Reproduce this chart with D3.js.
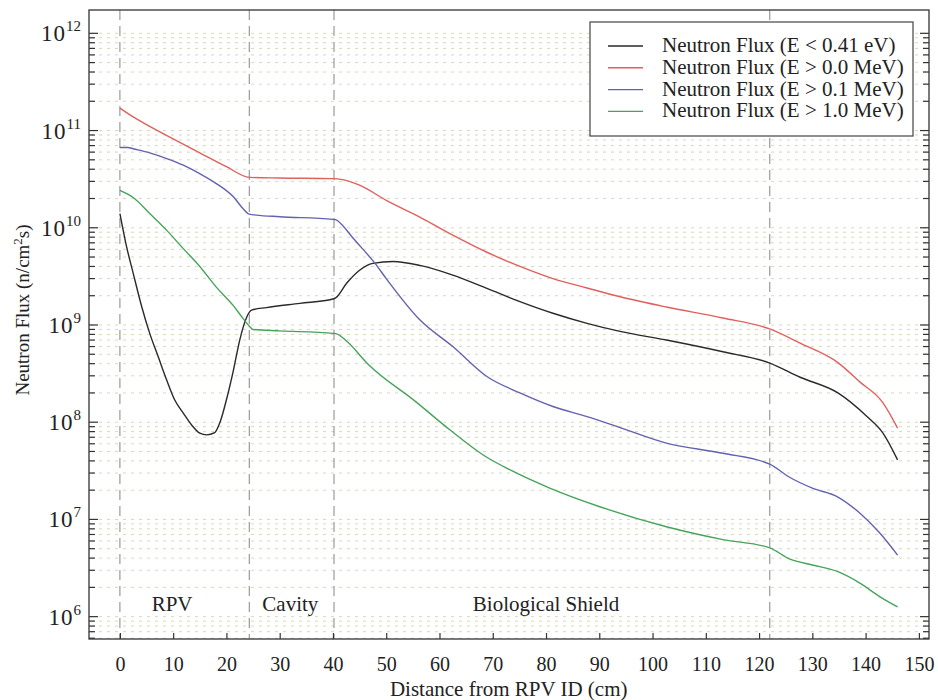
<!DOCTYPE html>
<html>
<head>
<meta charset="utf-8">
<script src="https://cdn.jsdelivr.net/npm/d3@7"></script>
<style>
  body { margin: 0; background: #fff; }
  svg text { font-family: "Liberation Serif", "Times New Roman", Times, serif !important; fill: #222; }
</style>
</head>
<body>
<div id="chart"></div>
<script>
const width = 938, height = 700;
const margin = {top: 10, right: 9, bottom: 61, left: 89};

// distances (cm) and flux values, one pair of arrays per series
const thermalX = [0, 1.25, 2.5, 4.1, 5.6, 7.2, 8.8, 10.3, 11.9, 13.5, 15, 16.3, 17.8, 18.8, 20, 21.3, 22.5, 23.8, 24.7, 27.5, 33.8, 40, 40.5, 42.6, 45, 47.5, 51.3, 56.3, 62.5, 68.9, 75.1, 81.3, 87.7, 93.9, 102.6, 113.2, 122, 127.7, 134.8, 140.2, 143.2, 146];
const thermalY = [1.4e10, 6.4e9, 3.4e9, 1.54e9, 8.2e8, 4.7e8, 2.7e8, 1.69e8, 1.24e8, 9.3e7, 7.7e7, 7.4e7, 7.8e7, 1.0e8, 1.7e8, 3.4e8, 7.0e8, 1.2e9, 1.42e9, 1.51e9, 1.67e9, 1.85e9, 1.9e9, 2.7e9, 3.66e9, 4.3e9, 4.5e9, 4.1e9, 3.26e9, 2.38e9, 1.74e9, 1.32e9, 1.04e9, 8.6e8, 7.0e8, 5.3e8, 4.06e8, 2.9e8, 2.0e8, 1.15e8, 7.8e7, 4.1e7];

const totalX = [0, 2.5, 5, 10, 15, 20, 24.3, 30, 40, 41.5, 45, 50.1, 56.3, 62.5, 68.9, 75.1, 81.3, 87.7, 93.9, 102.6, 113.2, 122, 127.7, 134.8, 138.9, 143.2, 146];
const totalY = [1.7e11, 1.38e11, 1.15e11, 8.2e10, 5.9e10, 4.25e10, 3.3e10, 3.25e10, 3.2e10, 3.15e10, 2.75e10, 1.9e10, 1.29e10, 8.4e9, 5.6e9, 4.0e9, 3.0e9, 2.4e9, 1.95e9, 1.53e9, 1.18e9, 9.1e8, 6.5e8, 4.1e8, 2.6e8, 1.6e8, 8.7e7];

const fast01X = [0, 1.5, 2.5, 5.6, 8.8, 11.9, 15, 18.1, 21.3, 23.1, 24.3, 25.6, 30, 40, 40.7, 41.5, 43.8, 47.9, 50.1, 56.3, 62.5, 68.9, 75.1, 81.3, 87.7, 93.9, 102.6, 113.2, 122, 125.8, 130, 134.8, 139, 142.7, 146];
const fast01Y = [6.7e10, 6.7e10, 6.5e10, 5.9e10, 5.15e10, 4.4e10, 3.6e10, 2.85e10, 2.08e10, 1.58e10, 1.38e10, 1.35e10, 1.3e10, 1.22e10, 1.2e10, 1.1e10, 7.8e9, 4.3e9, 2.95e9, 1.13e9, 6.0e8, 2.95e8, 2.0e8, 1.45e8, 1.14e8, 8.8e7, 6.1e7, 4.8e7, 3.7e7, 2.7e7, 2.1e7, 1.7e7, 1.15e7, 7.2e6, 4.3e6];

const fast1X = [0, 2.5, 5.6, 8.8, 11.9, 15, 18.1, 21.3, 23.1, 24.3, 25, 30, 40, 40.7, 42.6, 46.5, 55.7, 62, 68.2, 75, 80.7, 90.1, 102.6, 113.2, 122, 125.8, 130, 134.8, 139, 142.7, 146];
const fast1Y = [2.43e10, 2.05e10, 1.4e10, 9.4e9, 6.1e9, 4.0e9, 2.45e9, 1.58e9, 1.17e9, 9.7e8, 9.0e8, 8.7e8, 8.2e8, 8.1e8, 6.8e8, 4.0e8, 1.6e8, 8.3e7, 4.6e7, 2.9e7, 2.1e7, 1.35e7, 8.4e6, 6.2e6, 5.1e6, 3.9e6, 3.4e6, 2.9e6, 2.2e6, 1.6e6, 1.26e6];

const seriesNames = ["Neutron Flux (E < 0.41 eV)", "Neutron Flux (E > 0.0 MeV)", "Neutron Flux (E > 0.1 MeV)", "Neutron Flux (E > 1.0 MeV)"];
const seriesColors = ["#2a2a2a", "#e0605c", "#6262b0", "#45a45a"];

const xTicks = d3.range(0, 151, 10);
const decades = [6, 7, 8, 9, 10, 11, 12];
const boundaries = [0, 24.3, 40.2, 122];
const regions = [{name: "RPV", x: 9.8}, {name: "Cavity", x: 32}, {name: "Biological Shield", x: 80}];

const font = '"Liberation Serif", "Times New Roman", Times, serif';

const series = [
  {xs: thermalX, ys: thermalY},
  {xs: totalX, ys: totalY},
  {xs: fast01X, ys: fast01Y},
  {xs: fast1X, ys: fast1Y}
].map((s, i) => ({name: seriesNames[i], color: seriesColors[i], values: s.xs.map((d, j) => ({x: d, y: s.ys[j]}))}));

const svg = d3.select("#chart").append("svg")
    .attr("width", width)
    .attr("height", height)
    .style("font-family", font);

const x = d3.scaleLinear().domain([-5.8, 151.9]).range([margin.left, width - margin.right]);
const y = d3.scaleLog().domain([Math.pow(10, 5.77), Math.pow(10, 12.24)]).range([height - margin.bottom, margin.top]);

// minor grid values m x 10^n inside the y domain
const gridVals = [];
[5].concat(decades).forEach(p => {
  for (let m = 1; m < 10; m++) {
    const v = m * Math.pow(10, p);
    if (v <= y.domain()[1] && v >= y.domain()[0]) gridVals.push(v);
  }
});

svg.append("g")
    .attr("stroke", "#d6d9bc")
    .attr("stroke-width", 1)
    .attr("stroke-dasharray", "3,5")
  .selectAll("line")
  .data(gridVals)
  .join("line")
    .attr("x1", margin.left + 2)
    .attr("x2", width - margin.right - 2)
    .attr("y1", d => y(d))
    .attr("y2", d => y(d));

// region boundaries
svg.append("g")
    .attr("stroke", "#9a9a9a")
    .attr("stroke-width", 1.2)
    .attr("stroke-dasharray", "10,6")
  .selectAll("line")
  .data(boundaries)
  .join("line")
    .attr("x1", d => x(d))
    .attr("x2", d => x(d))
    .attr("y1", margin.top)
    .attr("y2", height - margin.bottom);

svg.append("g")
  .selectAll("text")
  .data(regions)
  .join("text")
    .attr("x", d => x(d.x))
    .attr("y", 611)
    .attr("text-anchor", "middle")
    .attr("font-size", 21)
    .text(d => d.name);

// curves
const line = d3.line()
    .x(d => x(d.x))
    .y(d => y(d.y))
    .curve(d3.curveMonotoneX);

svg.append("g")
    .attr("fill", "none")
    .attr("stroke-width", 1.4)
  .selectAll("path")
  .data(series)
  .join("path")
    .attr("stroke", d => d.color)
    .attr("d", d => line(d.values));

// frame
svg.append("rect")
    .attr("x", margin.left)
    .attr("y", margin.top)
    .attr("width", width - margin.left - margin.right)
    .attr("height", height - margin.top - margin.bottom)
    .attr("fill", "none")
    .attr("stroke", "#333")
    .attr("stroke-width", 1.3);

// x axis, ticks inside
const xAxis = svg.append("g")
    .attr("transform", `translate(0,${height - margin.bottom})`)
    .call(d3.axisBottom(x).tickValues(xTicks).tickSizeInner(-6).tickSizeOuter(0).tickPadding(18));
xAxis.attr("font-family", null);
xAxis.select(".domain").remove();
xAxis.selectAll("line").attr("stroke", "#333").attr("stroke-width", 1.2);
xAxis.selectAll("text")
    .attr("font-size", 20)
    .attr("fill", "#222");

// y ticks (major and minor) on both sides
const yTickG = svg.append("g").attr("stroke", "#333").attr("stroke-width", 1.2);
const tickData = gridVals.map(v => ({v, major: Math.abs(Math.log10(v) - Math.round(Math.log10(v))) < 1e-9}));
[margin.left, width - margin.right].forEach((x0, side) => {
  yTickG.append("g")
    .selectAll("line")
    .data(tickData)
    .join("line")
      .attr("x1", x0)
      .attr("x2", d => x0 + (side === 0 ? 1 : -1) * (d.major ? 9 : 6))
      .attr("y1", d => y(d.v))
      .attr("y2", d => y(d.v));
});

const yLabels = svg.append("g")
  .selectAll("text")
  .data(decades)
  .join("text")
    .attr("x", 81)
    .attr("y", d => y(Math.pow(10, d)) + 8)
    .attr("text-anchor", "end")
    .attr("font-size", 23);
yLabels.append("tspan").attr("letter-spacing", 1).text("10");
yLabels.append("tspan")
    .attr("dy", -10)
    .attr("font-size", 15)
    .text(d => d);

// axis titles
svg.append("text")
    .attr("x", x(73))
    .attr("y", 696)
    .attr("text-anchor", "middle")
    .attr("font-size", 21)
    .text("Distance from RPV ID (cm)");

const yTitle = svg.append("text")
    .attr("transform", "translate(29,310) rotate(-90)")
    .attr("text-anchor", "middle")
    .attr("font-size", 19);
yTitle.append("tspan").text("Neutron Flux (n/cm");
yTitle.append("tspan").attr("dy", -7).attr("font-size", 13).text("2");
yTitle.append("tspan").attr("dy", 7).text("s)");

// legend
const legend = svg.append("g");
legend.append("rect")
    .attr("x", 590)
    .attr("y", 22)
    .attr("width", 323)
    .attr("height", 114)
    .attr("fill", "#fff")
    .attr("stroke", "#444")
    .attr("stroke-width", 1.2);

const item = legend.selectAll("g.item")
  .data(series)
  .join("g")
    .attr("class", "item")
    .attr("transform", (d, i) => `translate(0,${46 + i * 21.8})`);
item.append("line")
    .attr("x1", 608)
    .attr("x2", 643)
    .attr("stroke", d => d.color)
    .attr("stroke-width", 1.4);
item.append("text")
    .attr("x", 662)
    .attr("y", 6)
    .attr("font-size", 21)
    .text(d => d.name);
</script>
</body>
</html>
